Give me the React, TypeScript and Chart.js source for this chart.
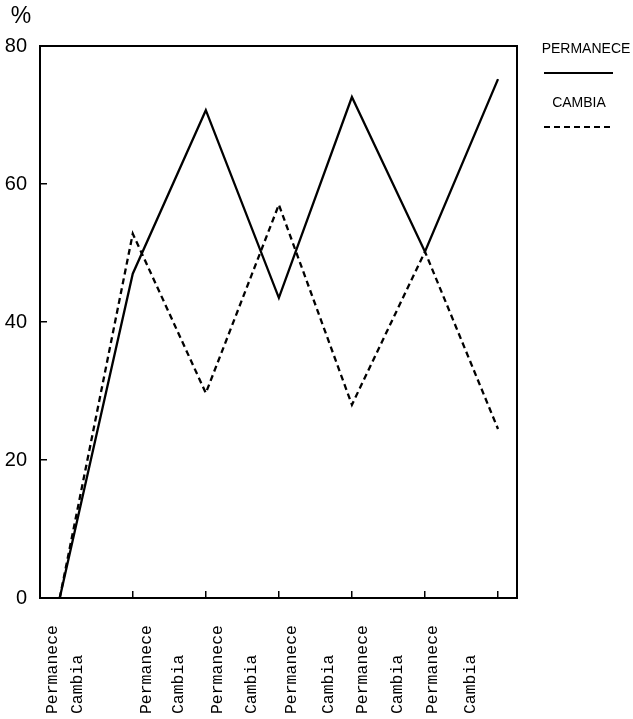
import React, { useEffect, useRef } from "react";
import { Chart, registerables } from "chart.js";

Chart.register(...registerables);

// ---- data ----
const STAGES = [0, 1, 2, 3, 4, 5, 6];
const PERMANECE = [0, 47, 70.7, 43.5, 72.6, 50.2, 75.2];
const CAMBIA = [0, 52.8, 29.7, 57, 28, 50.2, 24.5];
const SERIES_LABELS = ["PERMANECE", "CAMBIA"];
const Y_TICKS = [0, 20, 40, 60, 80];
const X_LABELS = [
  "Permanece", "Cambia",
  "Permanece", "Cambia",
  "Permanece", "Cambia",
  "Permanece", "Cambia",
  "Permanece", "Cambia",
  "Permanece", "Cambia",
];
const X_LABEL_POS = [-0.1, 0.24, 1.19, 1.63, 2.16, 2.63, 3.18, 3.68, 4.15, 4.62, 5.11, 5.62];

const X_MIN = -0.27;
const X_MAX = 6.26;
const MONO = "'Liberation Mono', 'DejaVu Sans Mono', monospace";
const SANS = "'Liberation Sans', Arial, sans-serif";

const framePlugin = {
  id: "frame",
  afterDraw(chart: any) {
    const { ctx, chartArea: a } = chart;
    ctx.save();
    ctx.strokeStyle = "#000";
    ctx.lineWidth = 2;
    ctx.strokeRect(a.left, a.top, a.right - a.left, a.bottom - a.top);
    // unit sign above the y axis
    const ys = chart.scales.y;
    ctx.fillStyle = "#000";
    ctx.font = `23px ${SANS}`;
    ctx.textAlign = "center";
    ctx.textBaseline = "middle";
    ctx.fillText("%", ys.left + 21, a.top - 29);
    ctx.restore();
  },
};

const legendPlugin = {
  id: "sideLegend",
  afterDraw(chart: any) {
    const { ctx, chartArea: a } = chart;
    const cx = a.right + 66;
    ctx.save();
    ctx.fillStyle = "#000";
    ctx.strokeStyle = "#000";
    ctx.font = `14px ${SANS}`;
    ctx.textAlign = "center";
    ctx.textBaseline = "middle";
    chart.data.datasets.forEach((ds: any, i: number) => {
      const ty = a.top + 3 + i * 54;
      ctx.fillText(ds.label, cx + (i === 0 ? 3 : -4), ty);
      ctx.lineWidth = 2;
      ctx.setLineDash(ds.borderDash || []);
      ctx.beginPath();
      ctx.moveTo(cx - 39, ty + 24);
      ctx.lineTo(cx + 30, ty + 24);
      ctx.stroke();
      ctx.setLineDash([]);
    });
    ctx.restore();
  },
};

export default function App() {
  const ref = useRef<HTMLCanvasElement | null>(null);

  useEffect(() => {
    if (!ref.current) return;
    const chart = new Chart(ref.current, {
      type: "line",
      data: {
        datasets: [
          {
            label: SERIES_LABELS[0],
            data: STAGES.map((x, i) => ({ x, y: PERMANECE[i] })),
            borderColor: "#000",
            borderWidth: 2.3,
            pointRadius: 0,
            tension: 0,
            fill: false,
          },
          {
            label: SERIES_LABELS[1],
            data: STAGES.map((x, i) => ({ x, y: CAMBIA[i] })),
            borderColor: "#000",
            borderWidth: 2.3,
            borderDash: [6, 4],
            pointRadius: 0,
            tension: 0,
            fill: false,
          },
        ],
      },
      options: {
        animation: false,
        responsive: true,
        maintainAspectRatio: false,
        layout: { padding: { top: 46, right: 116, left: 0, bottom: 0 } },
        plugins: { legend: { display: false }, tooltip: { enabled: false }, title: { display: false } },
        scales: {
          x: {
            type: "linear",
            position: "bottom",
            weight: 0,
            min: X_MIN,
            max: X_MAX,
            afterBuildTicks: (axis: any) => {
              axis.ticks = STAGES.slice(1).map((v) => ({ value: v }));
            },
            afterFit: (axis: any) => {
              axis.height = 0;
            },
            ticks: { display: false },
            grid: { drawOnChartArea: false, drawTicks: true, tickLength: -7, color: "#000", lineWidth: 1.5 },
            border: { display: false },
          },
          xl: {
            type: "linear",
            position: "bottom",
            weight: 1,
            min: X_MIN,
            max: X_MAX,
            afterBuildTicks: (axis: any) => {
              axis.ticks = X_LABEL_POS.map((v) => ({ value: v }));
            },
            afterFit: (axis: any) => {
              axis.height = 121;
            },
            ticks: {
              autoSkip: false,
              minRotation: 90,
              maxRotation: 90,
              padding: 27,
              color: "#000",
              font: { family: MONO, size: 16.5 },
              callback: (_v: any, i: number) => {
                const s = X_LABELS[i];
                return s + " ".repeat(Math.max(0, 9 - s.length));
              },
            },
            grid: { display: false, drawTicks: false },
            border: { display: false },
          },
          y: {
            type: "linear",
            min: 0,
            max: 80,
            afterBuildTicks: (axis: any) => {
              axis.ticks = Y_TICKS.map((v) => ({ value: v }));
            },
            afterFit: (axis: any) => {
              axis.width = 40;
            },
            ticks: {
              color: "#000",
              padding: 20,
              font: { family: SANS, size: 20 },
            },
            grid: { drawOnChartArea: false, drawTicks: true, tickLength: -7, color: "#000", lineWidth: 1.5 },
            border: { display: false },
          },
        },
      },
      plugins: [framePlugin, legendPlugin],
    } as any);
    return () => chart.destroy();
  }, []);

  return (
    <div style={{ position: "fixed", left: 0, top: 0, width: 633, height: 719, background: "#fff" }}>
      <canvas ref={ref} />
    </div>
  );
}
